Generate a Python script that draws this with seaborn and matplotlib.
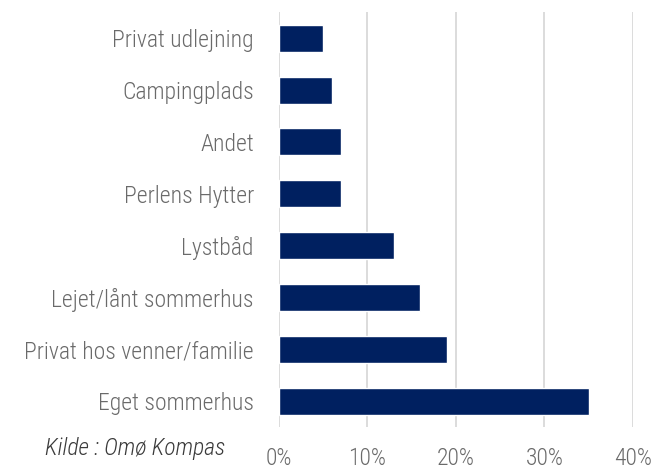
import matplotlib
matplotlib.use('Agg')
import matplotlib.pyplot as plt
import seaborn as sns
import pandas as pd
from matplotlib.ticker import PercentFormatter

# Overnatningsform (top til bund som i figuren)
categories = ['Privat udlejning', 'Campingplads', 'Andet', 'Perlens Hytter',
              'Lystbåd', 'Lejet/lånt sommerhus', 'Privat hos venner/familie',
              'Eget sommerhus']
shares = [5, 6, 7, 7, 13, 16, 19, 35]
x_ticks = [0, 10, 20, 30, 40]

df = pd.DataFrame({'kategori': categories, 'andel': shares})

sns.set_style('white')
plt.rcParams['font.family'] = ['Roboto Condensed', 'Roboto', 'DejaVu Sans']
plt.rcParams['font.weight'] = 'light'

fig = plt.figure(figsize=(6.56, 4.70), dpi=100)
ax = fig.add_axes([0.425, 0.091, 0.540, 0.883])

sns.barplot(data=df, x='andel', y='kategori', orient='h', color='#002060',
            width=0.52, saturation=1, ax=ax)

ax.set_xlim(0, 40)
ax.set_xticks(x_ticks)
ax.xaxis.set_major_formatter(PercentFormatter(decimals=0))
ax.set_ylim(7.5, -0.5)
ax.grid(axis='x', color='#d9d9d9', linewidth=1.3)
ax.set_axisbelow(True)
for s in ax.spines.values():
    s.set_visible(False)
ax.set_xlabel('')
ax.set_ylabel('')
ax.tick_params(axis='both', length=0, labelsize=17, labelcolor='#6a6a6a')
ax.tick_params(axis='y', pad=18)
ax.tick_params(axis='x', pad=14)

fig.text(0.068, 0.032, 'Kilde : Omø Kompas', style='italic', fontsize=17,
         color='#3a3a3a')

fig.savefig('out.png', dpi=100)
